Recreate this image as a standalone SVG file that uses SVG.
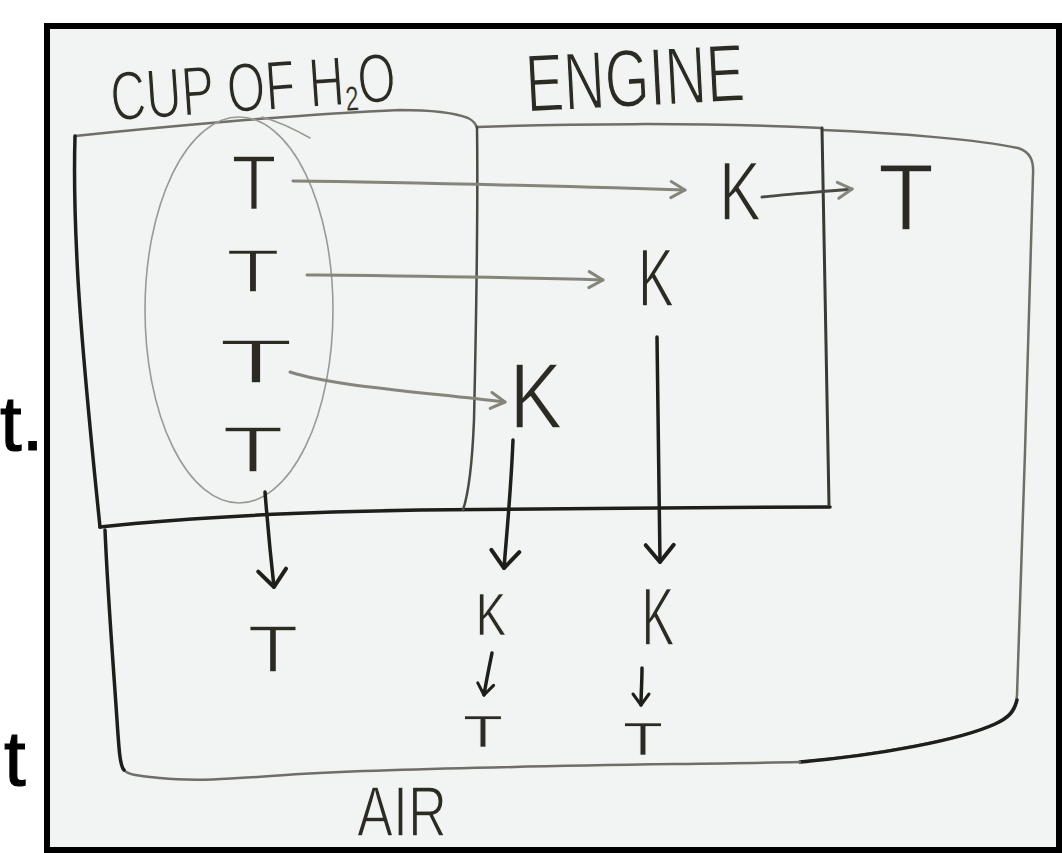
<svg xmlns="http://www.w3.org/2000/svg" width="1062" height="853" viewBox="0 0 1062 853">
  <style>
    .hand { font-family: "Liberation Sans", Arial, sans-serif; fill: #2b2b24; stroke: #f2f4f3; stroke-width: 1.6; }
    .small { stroke-width: 0.7; }
    .side { font-family: "Liberation Sans", Arial, sans-serif; fill: #000; stroke: #000; stroke-width: 1.2; }
    .edge { fill: none; stroke-linecap: round; stroke-linejoin: round; }
    .gray { stroke: #85857c; stroke-width: 3; }
    .dark { stroke: #1e1e1a; stroke-width: 3.5; }
    .pencil { stroke: #6f6f68; stroke-width: 2.5; }
  </style>
  <defs>
    <marker id="headGray" markerUnits="userSpaceOnUse" markerWidth="30" markerHeight="30" viewBox="-20 -15 30 30" refX="0" refY="0" orient="auto">
      <path d="M -14 -8 L 0 0 L -14 8" fill="none" stroke="#85857c" stroke-width="3" stroke-linecap="round" stroke-linejoin="round"/>
    </marker>
    <marker id="headDark" markerUnits="userSpaceOnUse" markerWidth="40" markerHeight="40" viewBox="-25 -20 40 40" refX="0" refY="0" orient="auto">
      <path d="M -17 -14 L 0 0 L -17 14" fill="none" stroke="#1e1e1a" stroke-width="4" stroke-linecap="round" stroke-linejoin="round"/>
    </marker>
    <marker id="headSmall" markerUnits="userSpaceOnUse" markerWidth="24" markerHeight="24" viewBox="-15 -12 24 24" refX="0" refY="0" orient="auto">
      <path d="M -11 -8 L 0 0 L -11 8" fill="none" stroke="#1e1e1a" stroke-width="3" stroke-linecap="round" stroke-linejoin="round"/>
    </marker>
  </defs>

  <rect x="0" y="0" width="1062" height="853" fill="#ffffff"/>

  <!-- side text fragments -->
  <g id="side-text">
    <text class="side" x="0" y="450" font-size="78">t.</text>
    <text class="side" x="4" y="785" font-size="78">t</text>
  </g>

  <!-- photo frame -->
  <g id="frame">
    <rect x="47" y="26" width="1012" height="824" fill="#f2f4f3" stroke="#000" stroke-width="6"/>
  </g>

  <!-- regions -->
  <g id="air-region">
    <path class="edge pencil" d="M 822 130 C 900 133, 980 140, 1018 148 C 1030 152, 1034 160, 1033 175 C 1030 300, 1022 550, 1017 695 C 1016 708, 1013 714, 1005 719 C 980 735, 900 752, 800 762"/>
    <path class="edge dark" d="M 1017 700 C 1014 712, 1008 718, 995 724 C 960 740, 880 755, 800 762"/>
    <path class="edge pencil" d="M 800 762 C 650 765, 450 766, 300 774 C 240 778, 200 782, 160 778 C 140 776, 128 775, 124 770"/>
    <path class="edge dark" d="M 124 770 C 120 766, 119 750, 117 720 C 113 660, 108 600, 105 530" stroke-width="2.5"/>
  </g>

  <g id="cup-region">
    <path class="edge pencil" d="M 75 136 C 150 128, 300 114, 400 110 C 430 110, 455 113, 468 118 C 474 121, 476 124, 477 128"/>
    <path class="edge dark" d="M 75 136 C 74 170, 74 200, 77 260 C 80 330, 90 430, 100 527" stroke-width="4"/>
    <path class="edge dark" d="M 100 527 C 180 518, 300 512, 420 510 C 550 508, 700 508, 830 507" stroke-width="4"/>
    <ellipse cx="239" cy="310" rx="94" ry="193" fill="none" stroke="#9a9a94" stroke-width="1.6"/>
    <path class="edge" d="M 262 117 C 280 122, 296 130, 310 138" stroke="#9a9a94" stroke-width="1.6"/>
  </g>

  <g id="engine-region">
    <path class="edge pencil" d="M 477 127 C 560 124, 700 122, 822 128"/>
    <path class="edge" d="M 477 127 C 478 200, 476 330, 474 420 C 472 470, 468 495, 463 510" stroke="#4a4a44" stroke-width="2.5"/>
    <path class="edge" d="M 822 128 C 823 200, 825 350, 829 505" stroke="#3a3a34" stroke-width="3"/>
  </g>

  <!-- labels -->
  <g id="labels">
    <text class="hand" x="112" y="121" font-size="70" textLength="286" lengthAdjust="spacingAndGlyphs" transform="rotate(-4 112 121)">CUP OF H<tspan font-size="34" dy="6" stroke-width="0.3">2</tspan><tspan dy="-6">O</tspan></text>
    <text class="hand" x="527" y="112" font-size="82" textLength="219" lengthAdjust="spacingAndGlyphs" transform="rotate(-3 527 112)">ENGINE</text>
    <text class="hand" x="357" y="836" font-size="70" textLength="90" lengthAdjust="spacingAndGlyphs">AIR</text>
  </g>

  <!-- letter nodes -->
  <g id="cup-T1"><text class="hand" x="254" y="210" font-size="77" text-anchor="middle" textLength="45" lengthAdjust="spacingAndGlyphs">T</text></g>
  <g id="cup-T2"><text class="hand" x="253" y="292" font-size="61" text-anchor="middle" textLength="54" lengthAdjust="spacingAndGlyphs">T</text></g>
  <g id="cup-T3"><text class="hand" x="256" y="383" font-size="63" text-anchor="middle" textLength="75" lengthAdjust="spacingAndGlyphs">T</text></g>
  <g id="cup-T4"><text class="hand" x="253" y="472" font-size="64" text-anchor="middle" textLength="62" lengthAdjust="spacingAndGlyphs">T</text></g>
  <g id="engine-K1"><text class="hand" x="740" y="220" font-size="84" text-anchor="middle" textLength="42" lengthAdjust="spacingAndGlyphs">K</text></g>
  <g id="engine-K2"><text class="hand" x="656" y="306" font-size="81" text-anchor="middle" textLength="36" lengthAdjust="spacingAndGlyphs">K</text></g>
  <g id="engine-K3"><text class="hand" x="536" y="428" font-size="92" text-anchor="middle" textLength="53" lengthAdjust="spacingAndGlyphs">K</text></g>
  <g id="right-T"><text class="hand" x="906" y="230" font-size="94" text-anchor="middle" textLength="56" lengthAdjust="spacingAndGlyphs">T</text></g>
  <g id="air-T1"><text class="hand" x="273" y="672" font-size="66" text-anchor="middle" textLength="51" lengthAdjust="spacingAndGlyphs">T</text></g>
  <g id="air-K1"><text class="hand small" x="491" y="635" font-size="59" text-anchor="middle" textLength="30" lengthAdjust="spacingAndGlyphs">K</text></g>
  <g id="air-K2"><text class="hand" x="658" y="645" font-size="81" text-anchor="middle" textLength="33" lengthAdjust="spacingAndGlyphs">K</text></g>
  <g id="air-T2"><text class="hand small" x="483" y="747" font-size="45" text-anchor="middle" textLength="40" lengthAdjust="spacingAndGlyphs">T</text></g>
  <g id="air-T3"><text class="hand small" x="643" y="755" font-size="46" text-anchor="middle" textLength="40" lengthAdjust="spacingAndGlyphs">T</text></g>

  <!-- connectors -->
  <g id="connectors">
    <path class="edge gray" d="M 293 181 C 400 182, 550 186, 685 190" marker-end="url(#headGray)"/>
    <path class="edge gray" d="M 307 275 C 400 276, 500 277, 603 280" marker-end="url(#headGray)"/>
    <path class="edge gray" d="M 290 372 C 330 385, 400 390, 505 402" marker-end="url(#headGray)"/>
    <path class="edge" d="M 762 197 C 790 194, 820 192, 852 189" stroke="#4a4a44" stroke-width="3" marker-end="url(#headGray)"/>
    <path class="edge dark" d="M 657 337 C 658 420, 659 500, 660 562" marker-end="url(#headDark)"/>
    <path class="edge dark" d="M 513 440 C 511 490, 507 530, 504 568" marker-end="url(#headDark)"/>
    <path class="edge dark" d="M 265 492 C 268 530, 271 560, 274 587" marker-end="url(#headDark)"/>
    <path class="edge dark" d="M 492 653 C 489 668, 486 682, 484 695" stroke-width="3" marker-end="url(#headSmall)"/>
    <path class="edge dark" d="M 642 668 C 642 682, 641 694, 641 705" stroke-width="3" marker-end="url(#headSmall)"/>
  </g>
</svg>
